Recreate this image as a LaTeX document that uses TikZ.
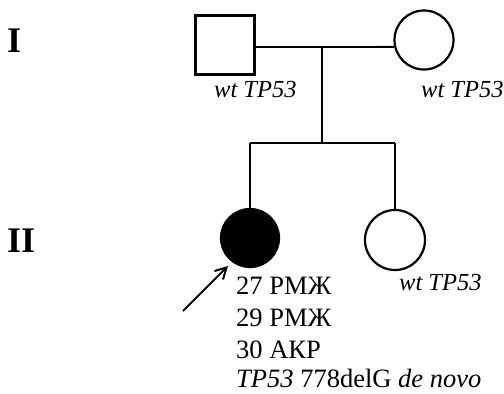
\documentclass[tikz,border=0pt]{standalone}
\usepackage{fontspec}
\setmainfont{Liberation Serif}
\usetikzlibrary{arrows.meta}
\begin{document}
\begin{tikzpicture}[x=1pt,y=-1pt,
  indiv/.style={draw=black,line width=2.2pt,inner sep=0pt,minimum size=59pt},
  male/.style={indiv,rectangle},
  female/.style={indiv,circle},
  conn/.style={line width=1.8pt},
  gen/.style={font=\fontsize{36}{40}\selectfont\bfseries,anchor=base west,inner sep=0pt},
  lbl/.style={font=\fontsize{24.5}{28}\selectfont\itshape,anchor=base west,inner sep=0pt},
  txt/.style={font=\fontsize{26.5}{30}\selectfont,anchor=base west,inner sep=0pt}]
\useasboundingbox (0,0) rectangle (504,394);
\node[gen] (g1) at (7,52) {I};
\node[gen] (g2) at (7,252) {II};
\node[male] (sq) at (225,45) {};
\node[female] (f) at (424,40) {};
\node[female,fill=black,minimum size=58pt] (c1) at (250,238) {};
\node[female,minimum size=60pt] (c2) at (395,240) {};
\coordinate (m) at (322,47);
\coordinate (s) at (322,143);
\draw[conn] (sq.east |- m) -- (f.193);
\draw[conn] (m) -- (s);
\draw[conn] (c1.north |- s) -- (c2.north |- s);
\draw[conn] (c1.north |- s) -- (c1.north);
\draw[conn] (c2.north |- s) -- (c2.north);
\node[lbl] (l1) at (214,97) {wt TP53};
\node[lbl] (l2) at (421,97) {wt TP53};
\node[lbl] (l3) at (399,290) {wt TP53};
\node[txt] (t1) at (236,294) {27 РМЖ};
\node[txt] (t2) at (236,326) {29 РМЖ};
\node[txt] (t3) at (236,358) {30 АКР};
\node[txt] (t4) at (236,387) {\textit{TP53} 778delG \textit{de novo}};
\coordinate (at) at (183,311);
\draw[line width=2pt,-{Straight Barb[length=11pt,width=12pt]}] (at) -- (228,266);
\end{tikzpicture}
\end{document}
